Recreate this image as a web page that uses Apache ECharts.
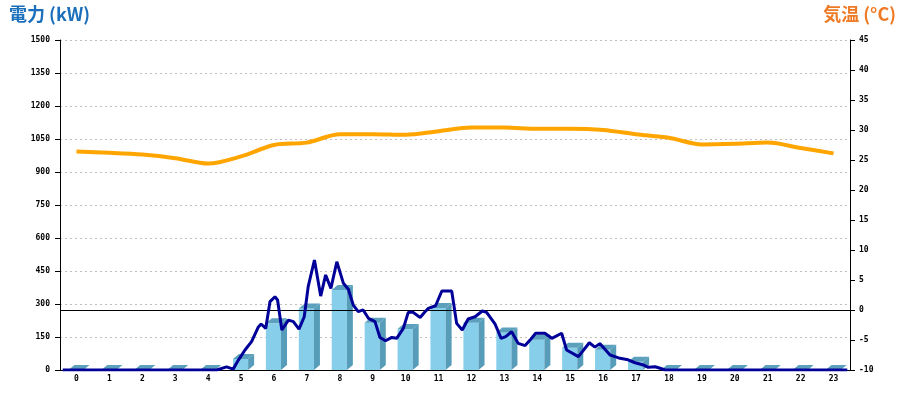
<!DOCTYPE html>
<html>
<head>
<meta charset="utf-8">
<script src="https://cdn.jsdelivr.net/npm/echarts@6/dist/echarts.min.js"></script>
<style>
html,body{margin:0;padding:0;background:#fff;}
#c{width:900px;height:400px;}
</style>
</head>
<body>
<div id="c"></div>
<script>
var hours = ['0','1','2','3','4','5','6','7','8','9','10','11','12','13','14','15','16','17','18','19','20','21','22','23'];
var powerBars = [0,0,0,0,0,50,212,280,364,215,186,282,215,171,138,101,92,37,0,0,0,0,0,0];
var temperature = [26.4,26.2,25.9,25.3,24.4,25.6,27.5,27.9,29.3,29.3,29.2,29.8,30.4,30.4,30.2,30.2,30.0,29.3,28.7,27.6,27.7,27.9,27.0,26.1];
var powerTimes = [0.083,4.76,5.06,5.26,5.42,5.62,5.82,6.02,6.11,6.25,6.38,6.53,6.61,6.74,6.94,7.09,7.26,7.42,7.54,7.73,7.92,8.07,8.23,8.41,8.61,8.76,8.91,9.06,9.21,9.37,9.57,9.72,9.89,10.08,10.23,10.43,10.58,10.73,10.94,11.09,11.19,11.41,11.60,11.90,12.05,12.22,12.40,12.61,12.83,12.96,13.22,13.40,13.54,13.72,13.92,14.13,14.28,14.45,14.73,14.94,15.24,15.39,15.75,16.08,16.25,16.40,16.71,16.86,17.01,17.22,17.47,17.72,17.87,18.08,18.23,18.38,23.917];
var powerValues = [0,0,14,4,45,91,129,194,209,189,311,333,318,182,227,220,186,242,379,500,336,432,371,492,394,367,295,265,273,235,220,148,133,148,144,189,262,262,239,265,280,292,359,359,212,182,232,242,268,262,208,144,152,174,121,111,136,167,167,144,167,91,61,124,104,120,68,61,53,48,33,23,12,15,8,0,0];

var powerLine = powerTimes.map(function(t,i){return [t, powerValues[i]];});
var barData = powerBars.map(function(v,i){return [i, v];});

var chart = echarts.init(document.getElementById('c'), null, {renderer:'canvas'});
var labelFont = {color:'#000', fontFamily:'DejaVu Sans Mono', fontSize:8, fontWeight:'bold'};
function plain(v){ return String(v); }

function render3DBar(params, api){
  var idx = api.value(0), val = api.value(1);
  var top = api.coord([idx, val]);
  var base = api.coord([idx, 0]);
  var band = api.size([1,0])[0];
  var w = band*0.46;
  var dx = 6, dy = 5;
  var x0 = top[0] - w/2 - 0.5, x1 = x0 + w;
  var yT = top[1], yB = base[1];
  var children = [];
  if (yB - yT > 0.5) {
    children.push({type:'rect', shape:{x:x0, y:yT, width:w, height:yB-yT}, style:{fill:'#87CEEB'}});
  }
  children.push({type:'polygon', shape:{points:[[x0,yT],[x0+dx,yT-dy],[x1+dx,yT-dy],[x1,yT]]}, style:{fill:'#5BA0BD'}});
  if (yB - yT > 0.5) {
    children.push({type:'polygon', shape:{points:[[x1,yT],[x1+dx,yT-dy],[x1+dx,yB-dy],[x1,yB]]}, style:{fill:'#579CB9'}});
  }
  return {type:'group', children:children};
}

chart.setOption({
  animation:false,
  backgroundColor:'#fff',
  grid:{left:60, right:50, top:40, bottom:30, containLabel:false},
  graphic:[
    {type:'text', left:9, top:5, style:{text:'電力 (kW)', fill:'#1C6FBA', font:'bold 18px "Noto Sans CJK JP", sans-serif'}},
    {type:'text', right:4, top:5, style:{text:'気温 (°C)', fill:'#EE7A26', font:'bold 18px "Noto Sans CJK JP", sans-serif'}}
  ],
  xAxis:[
    {type:'category', data:hours, boundaryGap:true, position:'bottom',
     axisLine:{lineStyle:{color:'#000', width:1}}, axisTick:{show:false},
     axisLabel:Object.assign({margin:5, interval:0}, labelFont), splitLine:{show:false}},
    {type:'value', min:0, max:24, show:false, position:'bottom'}
  ],
  yAxis:[
    {type:'value', min:0, max:1500, interval:150, position:'left',
     axisLine:{show:true, lineStyle:{color:'#000', width:1}},
     axisTick:{show:true, length:5, lineStyle:{color:'#000'}},
     axisLabel:Object.assign({margin:10, formatter:plain}, labelFont),
     splitLine:{show:true, lineStyle:{color:'#C0C0C0', type:[2,3], width:1}}},
    {type:'value', min:-10, max:45, interval:5, position:'right',
     axisLine:{show:true, lineStyle:{color:'#000', width:1}},
     axisTick:{show:true, length:5, lineStyle:{color:'#000'}},
     axisLabel:Object.assign({margin:9, formatter:plain}, labelFont),
     splitLine:{show:false}}
  ],
  series:[
    {type:'custom', name:'bars', xAxisIndex:0, yAxisIndex:0, data:barData, renderItem:render3DBar, z:2},
    {type:'line', name:'temp', xAxisIndex:0, yAxisIndex:1, data:temperature, symbol:'none', smooth:0.3,
     lineStyle:{color:'#FFA500', width:4}, z:3,
     markLine:{silent:true, symbol:'none', label:{show:false},
       lineStyle:{color:'#000', type:'solid', width:1}, data:[{yAxis:0}]}},
    {type:'line', name:'power', xAxisIndex:1, yAxisIndex:0, data:powerLine, symbol:'none',
     lineStyle:{color:'#000099', width:3}, z:5}
  ]
});
</script>
</body>
</html>
